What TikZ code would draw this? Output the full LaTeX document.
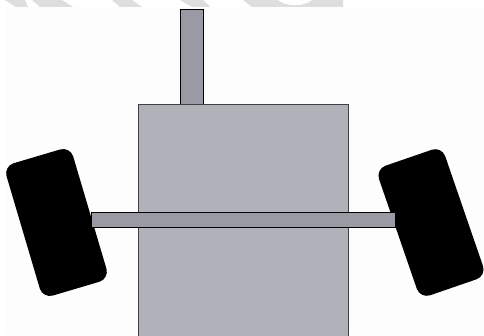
\documentclass[tikz,border=0pt]{standalone}
\definecolor{bodygray}{HTML}{B0B2BA}
\definecolor{bargray}{HTML}{9A9AA4}
\definecolor{paper}{HTML}{FDFDFD}
\definecolor{wmgray}{HTML}{DEDEDE}
\tikzset{
  bodybox/.style={draw=black!75,line width=0.9pt,fill=bodygray,rectangle,inner sep=0pt,anchor=north west},
  barbox/.style={draw=black,line width=1pt,fill=bargray,rectangle,inner sep=0pt,anchor=north west},
  wheelbox/.style={fill=black,rectangle,rounded corners=10.5pt,inner sep=0pt},
}
\begin{document}
\begin{tikzpicture}[x=1pt,y=-1pt]
\useasboundingbox (0,0) rectangle (484,335);
\fill[white] (0,0) rectangle (484,335);
\fill[wmgray] (5,0) -- (25,0) -- (28,7) -- (16,7) -- cycle;
\fill[wmgray] (32,0) -- (62,0) -- (73,7) -- (40,7) -- cycle;
\fill[wmgray] (112,0) -- (132,0) -- (142,7) -- (120,7) -- cycle;
\fill[wmgray] (180,0) -- (203,0) -- (210,7) -- (192,7) -- cycle;
\fill[wmgray] (243,0) -- (343,0) -- (343,7) -- (252,7) -- cycle;
\fill[white] (278,0) .. controls (286,7) and (304,7) .. (312,0) -- cycle;
\fill[paper] (6,7) rectangle (484,335);
\node[wheelbox,rotate=16.5,minimum width=69.5pt,minimum height=138pt] (lw) at (56.5,222.5) {};
\node[wheelbox,rotate=19,minimum width=70pt,minimum height=137pt] (rw) at (431,222.5) {};
\node[barbox,minimum width=23pt,minimum height=95.5pt] (stem) at (180,8.5) {};
\node[bodybox,minimum width=210.3pt,minimum height=240pt] (body) at (138,104) {};
\node[barbox,minimum width=303.5pt,minimum height=15.6pt] (axle) at (91,211.5) {};
\end{tikzpicture}
\end{document}
